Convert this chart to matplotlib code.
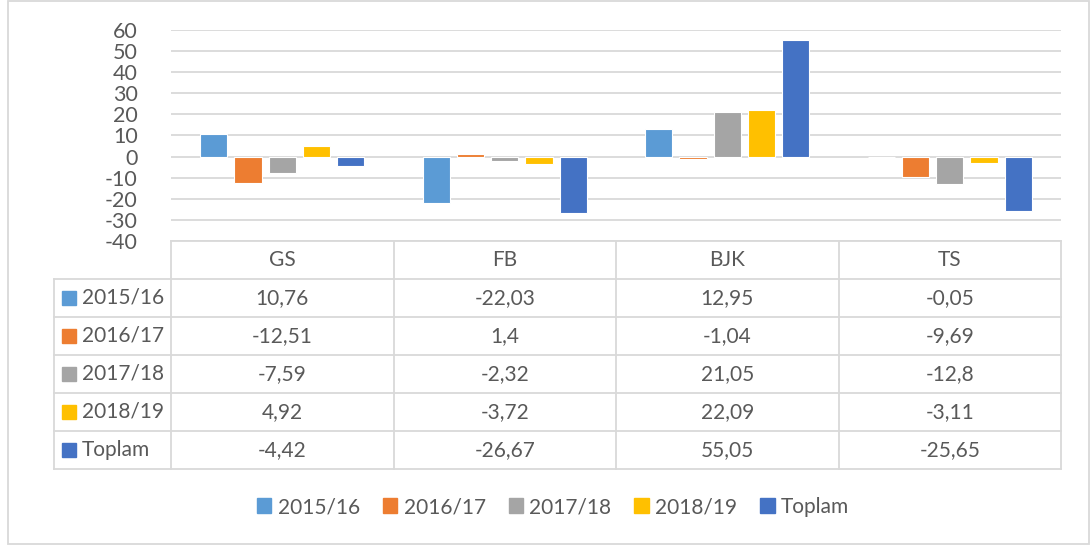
import matplotlib.pyplot as plt
from matplotlib.patches import Patch, Rectangle
import numpy as np

# Veriler
takimlar = ['GS', 'FB', 'BJK', 'TS']
sezonlar = ['2015/16', '2016/17', '2017/18', '2018/19', 'Toplam']
degerler = [
    [10.76, -22.03, 12.95, -0.05],
    [-12.51, 1.4, -1.04, -9.69],
    [-7.59, -2.32, 21.05, -12.8],
    [4.92, -3.72, 22.09, -3.11],
    [-4.42, -26.67, 55.05, -25.65],
]
renkler = ['#5B9BD5', '#ED7D31', '#A5A5A5', '#FFC000', '#4472C4']
y_ticks = [-40, -30, -20, -10, 0, 10, 20, 30, 40, 50, 60]

plt.rcParams['font.family'] = ['Lato', 'DejaVu Sans']
yazi_renk = '#595959'
cizgi_renk = '#D9D9D9'
fs = 15

W, H = 1090, 545
fig = plt.figure(figsize=(W / 100, H / 100), dpi=100)

# grafik alani (piksel)
x0, x1 = 171, 1061
y_top, y_bot = 30, 241
ax = fig.add_axes([x0 / W, 1 - y_bot / H, (x1 - x0) / W, (y_bot - y_top) / H])

x = np.arange(len(takimlar))
adim = 0.154
genislik = 0.122
for i, (s, v) in enumerate(zip(sezonlar, degerler)):
    ax.bar(x + (i - 2) * adim, v, width=genislik, color=renkler[i],
           edgecolor='white', linewidth=0.8, zorder=3)

ax.set_xlim(-0.5, len(takimlar) - 0.5)
ax.set_ylim(-40, 60)
ax.set_yticks(y_ticks)
ax.set_yticklabels([str(t) for t in y_ticks])
ax.set_xticks([])
ax.tick_params(axis='y', length=0, pad=24, labelsize=15.5, labelcolor=yazi_renk)
ax.yaxis.grid(True, color=cizgi_renk, linewidth=1.3)
ax.set_axisbelow(True)
for sp in ax.spines.values():
    sp.set_visible(False)

# veri tablosu (piksel koordinatlarinda katman)
tab = fig.add_axes([0, 0, 1, 1])
tab.set_xlim(0, W)
tab.set_ylim(H, 0)
tab.axis('off')

sol = 54
satir_h = 38
ust = y_bot
sutunlar = np.linspace(x0, x1, len(takimlar) + 1)
satirlar = [ust + satir_h * (k + 1) for k in range(len(sezonlar) + 1)]

# dis cerceve
tab.add_patch(Rectangle((8, 1), 1081, 543, fill=False, edgecolor=cizgi_renk, linewidth=1.3))

tab.plot([x0, x1], [ust, ust], color=cizgi_renk, lw=1.3)
for yy in satirlar:
    tab.plot([sol, x1], [yy, yy], color=cizgi_renk, lw=1.3)
tab.plot([sol, sol], [satirlar[0], satirlar[-1]], color=cizgi_renk, lw=1.3)
for xx in sutunlar:
    tab.plot([xx, xx], [ust, satirlar[-1]], color=cizgi_renk, lw=1.3)

for j, t in enumerate(takimlar):
    tab.text((sutunlar[j] + sutunlar[j + 1]) / 2, ust + satir_h / 2, t,
             ha='center', va='center', fontsize=fs, color=yazi_renk)

for i, s in enumerate(sezonlar):
    yc = satirlar[i] + satir_h / 2
    tab.add_patch(Rectangle((62, yc - 7), 14, 14, color=renkler[i]))
    tab.text(82, yc, s, ha='left', va='center', fontsize=fs, color=yazi_renk)
    for j in range(len(takimlar)):
        metin = str(degerler[i][j]).replace('.', ',')
        tab.text((sutunlar[j] + sutunlar[j + 1]) / 2, yc, metin,
                 ha='center', va='center', fontsize=fs, color=yazi_renk)

# alt lejant
handles = [Patch(color=c, label=s) for c, s in zip(renkler, sezonlar)]
fig.legend(handles=handles, loc='center', bbox_to_anchor=(553 / W, 1 - 507 / H),
           ncol=5, frameon=False, fontsize=fs, labelcolor=yazi_renk,
           handlelength=0.7, handleheight=0.7, handletextpad=0.3, columnspacing=1.1)

plt.savefig('out.png', dpi=100)
